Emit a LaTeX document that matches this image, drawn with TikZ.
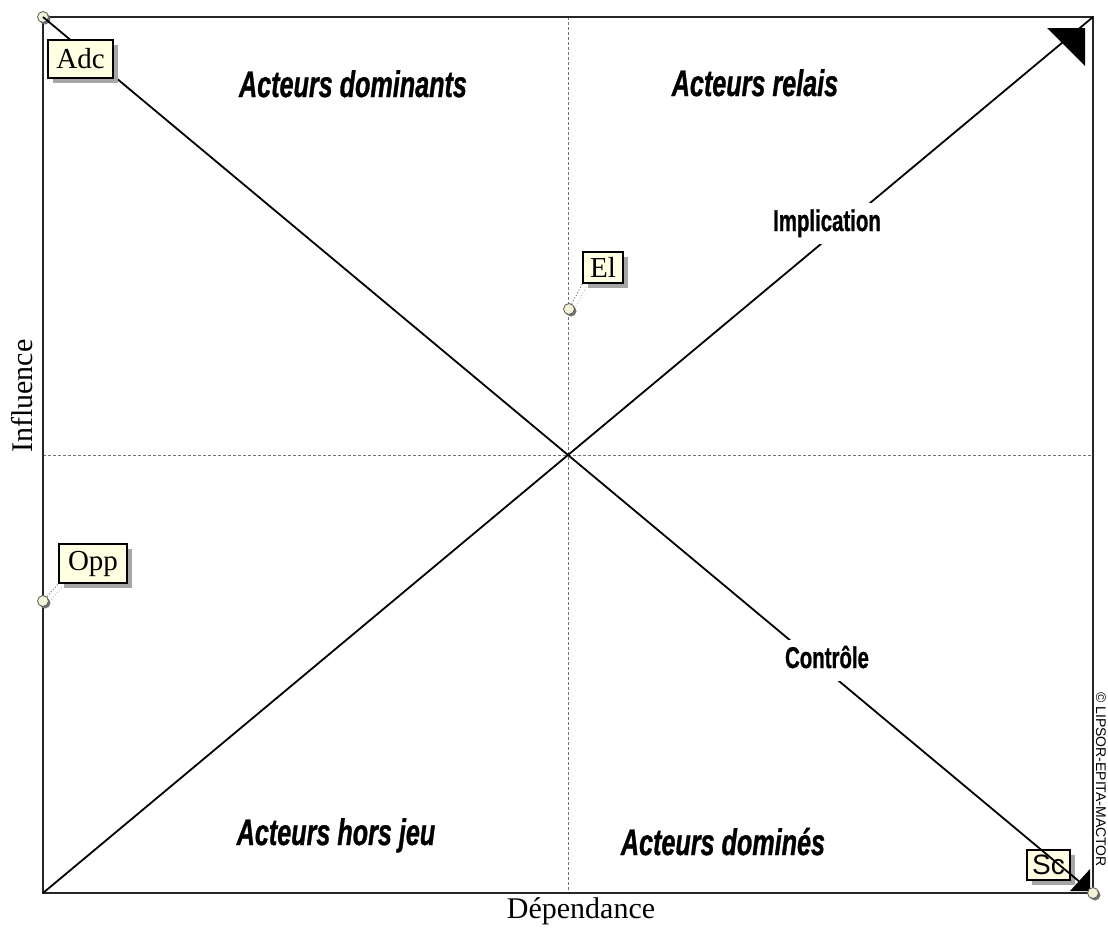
\documentclass[tikz,border=0pt]{standalone}
\usepackage{fontspec}
\setmainfont{Liberation Serif}
\newfontfamily\quadfont[FakeStretch=0.68, FakeBold=0.8]{Liberation Sans}
\newfontfamily\tagsans{Liberation Sans}
\usetikzlibrary{shadows}

\definecolor{tipfill}{HTML}{FFFFE1}
\definecolor{dotfill}{HTML}{F2F2D6}

\begin{document}
\begin{tikzpicture}[x=1pt,y=-1pt,
  midline/.style={black!55, line width=0.8pt, dash pattern=on 3pt off 2pt},
  frameline/.style={black!85, line width=1.6pt},
  diag/.style={black, line width=1.8pt},
  quad/.style={font=\quadfont\bfseries\itshape\fontsize{37}{37}\selectfont, anchor=base},
  trend/.style={font=\quadfont\bfseries\fontsize{30}{30}\selectfont, anchor=base,
    fill=white, inner xsep=6pt, inner ysep=6pt, text depth=7pt},
  axislabel/.style={font=\fontsize{30}{30}\selectfont, anchor=base},
  tag/.style={draw=black, line width=1.2pt, fill=tipfill, inner sep=0pt,
    font=\fontsize{29}{29}\selectfont,
    drop shadow={shadow xshift=5pt, shadow yshift=-5pt, fill=black!35, opacity=1}},
  dot/.style={circle, draw=black!65, line width=0.8pt, fill=dotfill,
    minimum size=11pt, inner sep=0pt,
    drop shadow={shadow xshift=2pt, shadow yshift=-2pt, fill=black!55, opacity=1}},
  lead/.style={draw=black!50, dotted, line width=1pt},
  leadshade/.style={draw=black!22, dotted, line width=1pt},
]
\useasboundingbox (0,0) rectangle (1108,927);
\fill[white] (0,0) rectangle (1108,927);

% frame corners and axis ends
\coordinate (tl) at (43,17);
\coordinate (tr) at (1093,17);
\coordinate (bl) at (43,893);
\coordinate (br) at (1093,893);
\coordinate (top mid) at (568,17);
\coordinate (bottom mid) at (568,893);
\coordinate (left mid) at (43,455);
\coordinate (right mid) at (1093,455);

% actor positions
\coordinate (Adc) at (43,17);
\coordinate (El) at (569,309);
\coordinate (Opp) at (43,601);
\coordinate (Sc) at (1093,893);

% median lines and frame
\draw[midline] (top mid) -- (bottom mid);
\draw[midline] (left mid) -- (right mid);
\draw[frameline] (tl) rectangle (br);

% Sc tag lies beneath the control diagonal
\node[tag, font=\tagsans\fontsize{28}{28}\selectfont, minimum width=43pt, minimum height=30pt]
  (Sc tag) at (1048.5,865) {Sc};
\draw[leadshade] ([shift={(3,3)}]Sc) -- ([shift={(3,3)}]Sc tag.south east);
\draw[lead] (Sc) -- (Sc tag.south east);

% Adc point sits under the diagonal
\node[dot] (Adc dot) at (Adc) {};

% diagonals: control and implication, with their heads
\draw[diag] (Adc) -- (Sc);
\fill ([shift={(-3,-2)}]Sc) -- ++(-20,0) -- ++(20,-22) -- cycle;
\draw[diag] (bl) -- (tr);
\fill ([shift={(-8,11)}]tr) -- ++(-38,0) -- ++(38,38) -- cycle;

\node[trend] (implication) at (827,231) {Implication};
\node[trend] (controle) at (827,668) {Contrôle};

% quadrant names
\node[quad] (q1) at (353,97) {Acteurs dominants};
\node[quad] (q2) at (755,96) {Acteurs relais};
\node[quad] (q3) at (336,845) {Acteurs hors jeu};
\node[quad] (q4) at (723,855) {Acteurs dominés};

% axis titles
\node[axislabel, rotate=90] (ylab) at (32,396) {Influence};
\node[axislabel] (xlab) at (581,918) {Dépendance};

% copyright along the right edge
\node[font=\tagsans\fontsize{14}{14}\selectfont, rotate=-90, anchor=base west, inner sep=0pt]
  (copy) at (1096,692) {© LIPSOR-EPITA-MACTOR};

% actor tags with their leaders
\node[tag, minimum width=65pt, minimum height=38pt] (Adc tag) at (80.5,59) {Adc};

\node[tag, minimum width=40pt, minimum height=31pt] (El tag) at (603,267.5) {El};
\draw[leadshade] ([shift={(4,3)}]El) -- ([shift={(4,3)}]El tag.south west);
\draw[lead] (El) -- (El tag.south west);

\node[tag, minimum width=68pt, minimum height=39pt] (Opp tag) at (93,563.5) {Opp};
\draw[leadshade] ([shift={(4,3)}]Opp) -- ([shift={(4,3)}]Opp tag.south west);
\draw[lead] (Opp) -- (Opp tag.south west);

% remaining actor points
\node[dot] (El dot) at (El) {};
\node[dot] (Opp dot) at (Opp) {};
\node[dot] (Sc dot) at (Sc) {};
\end{tikzpicture}
\end{document}
